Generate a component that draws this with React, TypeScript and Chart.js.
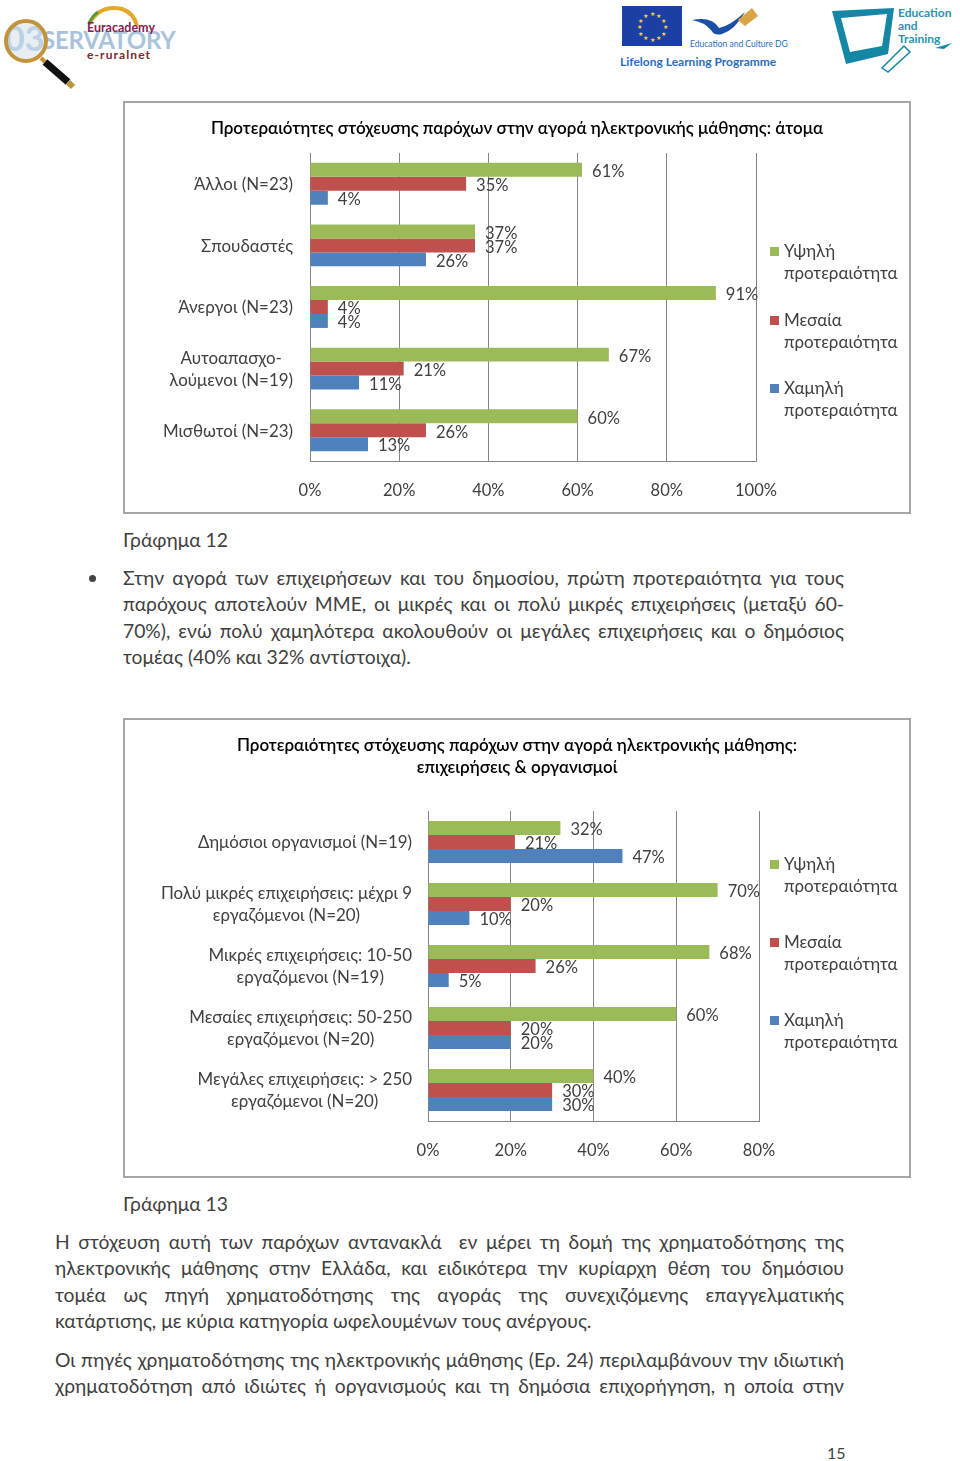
import React, { useEffect, useRef } from "react";
import { Chart, registerables } from "chart.js";

Chart.register(...registerables);

const FONT = 'Lato, "Open Sans", sans-serif';
const seriesNames = ["Υψηλή προτεραιότητα", "Μεσαία προτεραιότητα", "Χαμηλή προτεραιότητα"];
const seriesColors = ["#9BBB59", "#C0504D", "#4F81BD"];

const cats1 = [["Άλλοι (N=23)"], ["Σπουδαστές"], ["Άνεργοι (N=23)"], ["Αυτοαπασχο-", "λούμενοι (N=19)"], ["Μισθωτοί (N=23)"]];
const high1 = [61, 37, 91, 67, 60];
const mid1 = [35, 37, 4, 21, 26];
const low1 = [4, 26, 4, 11, 13];

const cats2 = [
  ["Δημόσιοι οργανισμοί (N=19)"],
  ["Πολύ μικρές επιχειρήσεις: μέχρι 9", "εργαζόμενοι (N=20)"],
  ["Μικρές επιχειρήσεις: 10-50", "εργαζόμενοι (N=19)"],
  ["Μεσαίες επιχειρήσεις: 50-250", "εργαζόμενοι (N=20)"],
  ["Μεγάλες επιχειρήσεις: > 250", "εργαζόμενοι (N=20)"],
];
const high2 = [32, 70, 68, 60, 40];
const mid2 = [21, 20, 26, 20, 30];
const low2 = [47, 10, 5, 20, 30];

const title1 = "Προτεραιότητες στόχευσης παρόχων στην αγορά ηλεκτρονικής μάθησης: άτομα";
const title2 = ["Προτεραιότητες στόχευσης παρόχων στην αγορά ηλεκτρονικής μάθησης:", "επιχειρήσεις & οργανισμοί"];

const para1 = [
  "Στην αγορά των επιχειρήσεων και του δημοσίου, πρώτη προτεραιότητα για τους",
  "παρόχους αποτελούν ΜΜΕ, οι μικρές και οι πολύ μικρές επιχειρήσεις (μεταξύ 60-",
  "70%), ενώ πολύ χαμηλότερα ακολουθούν οι μεγάλες επιχειρήσεις και ο δημόσιος",
];
const para1End = "τομέας (40% και 32% αντίστοιχα).";
const para2 = [
  "Η στόχευση αυτή των παρόχων αντανακλά \u00a0εν μέρει τη δομή της χρηματοδότησης της",
  "ηλεκτρονικής μάθησης στην Ελλάδα, και ειδικότερα την κυρίαρχη θέση του δημόσιου",
  "τομέα ως πηγή χρηματοδότησης της αγοράς της συνεχιζόμενης επαγγελματικής",
];
const para2End = "κατάρτισης, με κύρια κατηγορία ωφελουμένων τους ανέργους.";
const para3 = [
  "Οι πηγές χρηματοδότησης της ηλεκτρονικής μάθησης (Ερ. 24) περιλαμβάνουν την ιδιωτική",
  "χρηματοδότηση από ιδιώτες ή οργανισμούς και τη δημόσια επιχορήγηση, η οποία στην",
];

type Cfg = {
  cats: string[][]; series: number[][]; max: number; title: string | string[]; titleLines: number; titleLine: number;
  w: number; h: number; axisLeft: number; axisRight: number; titleTop: number; plotTop: number; plotBottom: number;
  labelRight: number; legendY: number[];
};

const TITLE_SIZE = 17;

const barLabelsAndLegend = {
  id: "barLabelsAndLegend",
  afterDatasetsDraw(chart: any, _a: any, opts: any) {
    const { ctx } = chart;
    ctx.save();
    ctx.font = `16.5px ${FONT}`;
    ctx.fillStyle = "#404040";
    ctx.textBaseline = "middle";
    ctx.textAlign = "left";
    chart.data.datasets.forEach((ds: any, i: number) => {
      chart.getDatasetMeta(i).data.forEach((el: any, j: number) => {
        ctx.fillText(`${ds.data[j]}%`, el.x + 10, el.y + 2);
      });
    });
    // category labels: a centred block whose widest line ends at labelRight
    ctx.font = `16.9px ${FONT}`;
    const yScale = chart.scales.y;
    (chart.data.labels as string[][]).forEach((lines, i) => {
      const w = Math.max(...lines.map((l) => ctx.measureText(l).width));
      const cx = opts.labelRight - w / 2;
      const cy = yScale.getPixelForTick(i);
      ctx.textAlign = "center";
      lines.forEach((l, k) => ctx.fillText(l, cx, cy + 1 + (k - (lines.length - 1) / 2) * 22));
    });
    // legend
    ctx.font = `17px ${FONT}`;
    ctx.textAlign = "left";
    chart.data.datasets.forEach((ds: any, i: number) => {
      const y = opts.legendY[i];
      const [a, b] = ds.label.split(" ");
      ctx.fillStyle = ds.backgroundColor;
      ctx.fillRect(646, y - 4, 9, 9);
      ctx.fillStyle = "#404040";
      ctx.fillText(a, 660, y + 1);
      ctx.fillText(b, 660, y + 23);
    });
    ctx.restore();
  },
};

function BarChart({ cfg, left, top }: { cfg: Cfg; left: number; top: number }) {
  const ref = useRef<HTMLCanvasElement>(null);
  useEffect(() => {
    const titleH = cfg.titleLines * cfg.titleLine * TITLE_SIZE;
    const chart = new Chart(ref.current as HTMLCanvasElement, {
      type: "bar",
      data: {
        labels: cfg.cats as any,
        datasets: cfg.series.map((d, i) => ({
          label: seriesNames[i],
          data: d,
          backgroundColor: seriesColors[i],
          categoryPercentage: 0.68,
          barPercentage: 1,
          yAxisID: "y",
        })),
      },
      plugins: [barLabelsAndLegend],
      options: {
        indexAxis: "y",
        animation: false,
        responsive: false,
        layout: { padding: 0 },
        scales: {
          x: {
            min: 0,
            max: cfg.max,
            ticks: {
              stepSize: 20,
              padding: 20,
              maxRotation: 0,
              color: "#404040",
              font: { family: FONT, size: 16.5 },
              callback: (v: any) => `${v}%`,
            },
            grid: { color: "#868686", lineWidth: 1, drawTicks: false },
            border: { color: "#868686" },
            afterFit: (s: any) => { s.height = cfg.h - cfg.plotBottom; },
          },
          y: {
            ticks: { display: false },
            grid: { display: false },
            border: { color: "#868686" },
            afterFit: (s: any) => { s.width = cfg.axisLeft; },
          },
          // empty axis that reserves the legend column, so the title stays centred on the whole chart
          legendColumn: {
            axis: "y",
            type: "category",
            position: "right",
            labels: [""],
            ticks: { display: false },
            grid: { display: false },
            border: { display: false },
            afterFit: (s: any) => { s.width = cfg.w - cfg.axisRight; },
          },
        },
        plugins: {
          legend: { display: false },
          tooltip: { enabled: false },
          title: {
            display: true,
            text: cfg.title,
            color: "#000000",
            font: { family: FONT, size: TITLE_SIZE, weight: "600", lineHeight: cfg.titleLine },
            padding: { top: cfg.titleTop, bottom: cfg.plotTop - cfg.titleTop - titleH },
          },
          barLabelsAndLegend: { labelRight: cfg.labelRight, legendY: cfg.legendY },
        } as any,
      },
    } as any);
    return () => chart.destroy();
  }, [cfg]);
  return (
    <canvas ref={ref} width={cfg.w} height={cfg.h} style={{ position: "absolute", left, top, width: cfg.w, height: cfg.h }} />
  );
}

const cfg1: Cfg = {
  cats: cats1, series: [high1, mid1, low1], max: 100, title: title1, titleLines: 1, titleLine: 1.2,
  w: 786, h: 411, axisLeft: 186, axisRight: 632, titleTop: 16, plotTop: 51, plotBottom: 359,
  labelRight: 169, legendY: [149, 218, 286],
};
const cfg2: Cfg = {
  cats: cats2, series: [high2, mid2, low2], max: 80, title: title2, titleLines: 2, titleLine: 22 / 17,
  w: 786, h: 458, axisLeft: 304, axisRight: 635, titleTop: 16, plotTop: 92, plotBottom: 402,
  labelRight: 288, legendY: [145, 223, 301],
};

const bodyStyle: React.CSSProperties = {
  position: "absolute", font: `19.3px/24px ${FONT}`, color: "#3f3f3f", height: 24, overflow: "hidden",
};

function Line({ text, x, y, w, just }: { text: string; x: number; y: number; w?: number; just?: boolean }) {
  return (
    <div style={{ ...bodyStyle, left: x, top: y - 12, width: w ?? 800, textAlign: just ? "justify" : "left", textAlignLast: just ? "justify" : "left" }}>
      {text}
    </div>
  );
}

const starAngles = [0, 30, 60, 90, 120, 150, 180, 210, 240, 270, 300, 330];

function Logos() {
  return (
    <svg width={960} height={95} style={{ position: "absolute", left: 0, top: 0 }}>
      <text x={5} y={51} fontFamily={FONT} fontSize={34} fontWeight={700} fill="#b9cde0">03</text>
      <text x={42} y={49} fontFamily={FONT} fontSize={24} fontWeight={700} fill="#a9c3dc" letterSpacing={-0.2}>SERVATORY</text>
      <circle cx={26} cy={41} r={20} fill="#c4d6e6" fillOpacity={0.4} stroke="#c4923a" strokeWidth={4} />
      <line x1={41} y1={58} x2={45} y2={62} stroke="#c4923a" strokeWidth={4} />
      <line x1={45} y1={62} x2={68} y2={82} stroke="#111" strokeWidth={7} />
      <line x1={68} y1={82} x2={73} y2={87} stroke="#b8963c" strokeWidth={6} />
      <path d="M 89 24 Q 100 4 122 9 Q 134 13 137 26" fill="none" stroke="#e2a92b" strokeWidth={4} />
      <path d="M 89 24 Q 92 16 98 12" fill="none" stroke="#5b9a3c" strokeWidth={3} />
      <text x={87} y={32} fontFamily={FONT} fontSize={12.5} fontWeight={700} fill="#8a2050">Euracademy</text>
      <text x={87} y={59} fontFamily={FONT} fontSize={12} fontWeight={700} fill="#7a2a30" letterSpacing={1.1}>e-ruralnet</text>

      <rect x={622} y={6} width={60} height={40} fill="#1c3fa6" />
      {starAngles.map((a) => (
        <text key={a} x={652 + 13 * Math.sin((a * Math.PI) / 180)} y={29 - 13 * Math.cos((a * Math.PI) / 180)} fontSize={6} fill="#f5d33a" textAnchor="middle">★</text>
      ))}
      <path d="M 692 20 Q 712 16 719 28 Q 730 26 745 12 Q 735 30 722 34 Q 714 36 711 30 Q 704 22 692 20 Z" fill="#1c4fa6" />
      <path d="M 738 20 L 752 8 L 758 16 L 745 26 Z" fill="#d9a441" />
      <text x={690} y={47} fontFamily={FONT} fontSize={8.5} fill="#2a6ebb">Education and Culture DG</text>
      <text x={620} y={66} fontFamily={FONT} fontSize={12} fontWeight={700} fill="#2a6ebb">Lifelong Learning Programme</text>

      <path d="M 832 11 L 894 8 L 888 54 L 846 64 Z" fill="#1487a6" />
      <path d="M 841 18 L 887 14 L 882 46 L 850 52 Z" fill="#ffffff" />
      <path d="M 882 68 L 904 46 L 910 52 L 888 72 Z" fill="#ffffff" stroke="#1487a6" strokeWidth={1.5} />
      <path d="M 935 48 L 952 43 L 944 49 Z" fill="#1487a6" />
      <text x={898} y={17} fontFamily={FONT} fontSize={12} fontWeight={700} fill="#2a93ad">Education</text>
      <text x={898} y={30} fontFamily={FONT} fontSize={12} fontWeight={700} fill="#2a93ad">and</text>
      <text x={898} y={43} fontFamily={FONT} fontSize={12} fontWeight={700} fill="#2a93ad">Training</text>
    </svg>
  );
}

const frame: React.CSSProperties = { position: "absolute", left: 123, width: 784, border: "2px solid #a6a6a6", boxSizing: "content-box", pointerEvents: "none" };

export default function App() {
  return (
    <div style={{ position: "absolute", left: 0, top: 0, width: 960, height: 1461, background: "#fff", overflow: "hidden" }}>
      <Logos />
      <BarChart cfg={cfg1} left={124} top={102} />
      <div style={{ ...frame, top: 101, height: 409 }} />
      <Line text="Γράφημα 12" x={123} y={540} />
      <div style={{ position: "absolute", left: 89, top: 575, width: 7, height: 7, borderRadius: 4, background: "#444" }} />
      {para1.map((t, i) => <Line key={t} text={t} x={123} y={[578, 604, 631][i]} w={721} just />)}
      <Line text={para1End} x={123} y={657} />
      <BarChart cfg={cfg2} left={124} top={719} />
      <div style={{ ...frame, top: 718, height: 456 }} />
      <Line text="Γράφημα 13" x={123} y={1204} />
      {para2.map((t, i) => <Line key={t} text={t} x={55} y={[1242, 1268, 1295][i]} w={789} just />)}
      <Line text={para2End} x={55} y={1321} />
      {para3.map((t, i) => <Line key={t} text={t} x={55} y={[1360, 1386][i]} w={789} just />)}
      <div style={{ ...bodyStyle, left: 827, top: 1441, width: 30, fontSize: 16 }}>15</div>
    </div>
  );
}
